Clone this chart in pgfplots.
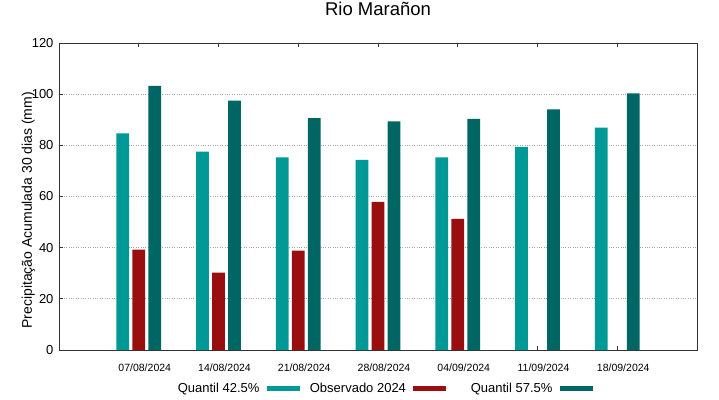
\documentclass[border=0pt]{standalone}
\usepackage{fontspec}
\setmainfont{Liberation Sans}
\usepackage{pgfplots}
\pgfplotsset{compat=1.18}
\definecolor{qlow}{RGB}{0,153,150}
\definecolor{obs}{RGB}{153,15,15}
\definecolor{qhigh}{RGB}{0,102,100}
\begin{document}
\begin{tikzpicture}
\path[use as bounding box] (-59pt,-49pt) rectangle (660pt,350pt);
\begin{axis}[
  scale only axis, width=638pt, height=307pt,
  xmin=-1, xmax=7, ymin=0, ymax=120,
  xtick={0,1,2,3,4,5,6},
  xticklabels={07/08/2024,14/08/2024,21/08/2024,28/08/2024,04/09/2024,11/09/2024,18/09/2024},
  ytick={0,20,40,60,80,100,120},
  xtick pos=both, ytick pos=left,
  tick align=inside,
  major tick length=4pt,
  axis line style={draw=black!80, line width=0.8pt},
  every tick/.style={draw=black!80, line width=0.8pt},
  ymajorgrids,
  grid style={gray!70, dotted, line width=0.8pt},
  /pgf/number format/assume math mode=true,
  yticklabel style={font=\fontsize{13}{15}\selectfont, xshift=-2pt},
  xticklabel style={font=\fontsize{10.5}{12}\selectfont, anchor=base, yshift=-21pt, xshift=6pt},
  title={Rio Marañon},
  title style={at={(axis description cs:0.5,1)}, anchor=base, yshift=21pt, font=\fontsize{18.5}{21}\selectfont},
  ylabel={Precipitação Acumulada 30 dias (mm)},
  ylabel style={at={([xshift=-24pt]axis description cs:0,0.455)}, anchor=south, inner sep=0pt, font=\fontsize{14}{16}\selectfont},
  legend columns=3,
  legend plot pos=right,
  legend image code/.code={\draw[#1] (0pt,0pt) -- (33pt,0pt);},
  legend style={at={(axis description cs:0.5,0)}, anchor=north, yshift=-31pt, xshift=-1.5pt,
    draw=none, fill=none, inner sep=0pt,
    font=\fontsize{13}{15}\selectfont,
    /tikz/every even column/.append style={column sep=1.5pt},
    /tikz/every odd column/.append style={column sep=3pt}},
]
\addplot[ybar, bar width=0.16, bar shift=-0.2, fill=qlow, draw=none, forget plot]
  coordinates {(0,84.7) (1,77.5) (2,75.3) (3,74.3) (4,75.3) (5,79.4) (6,86.9)};
\addplot[ybar, bar width=0.16, bar shift=0, fill=obs, draw=none, forget plot]
  coordinates {(0,39.2) (1,30.2) (2,38.8) (3,57.9) (4,51.3)};
\addplot[ybar, bar width=0.16, bar shift=0.2, fill=qhigh, draw=none, forget plot]
  coordinates {(0,103.2) (1,97.5) (2,90.6) (3,89.4) (4,90.3) (5,94.1) (6,100.3)};
\addlegendimage{qlow, line width=5pt}
\addlegendentry{\makebox[100pt][r]{Quantil 42.5\%}}
\addlegendimage{obs, line width=5pt}
\addlegendentry{\makebox[100pt][r]{Observado 2024}}
\addlegendimage{qhigh, line width=5pt}
\addlegendentry{\makebox[100pt][r]{Quantil 57.5\%}}
\end{axis}
\end{tikzpicture}
\end{document}
